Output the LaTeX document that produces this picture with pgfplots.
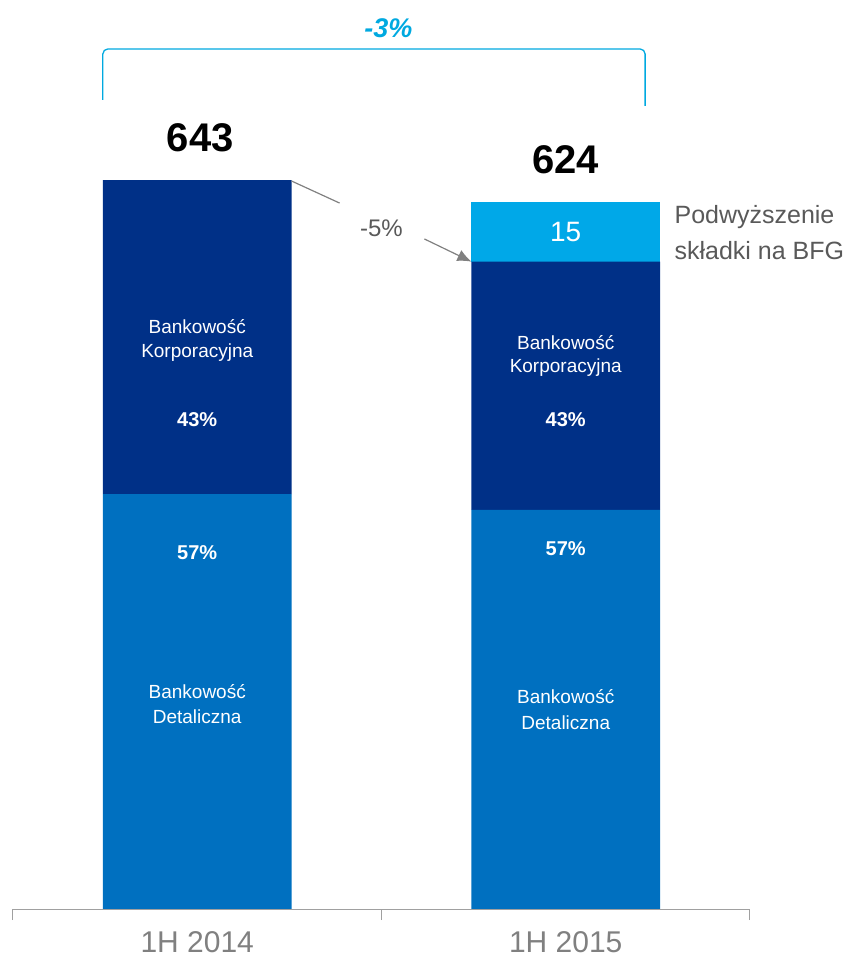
\documentclass[border=0pt]{standalone}
\usepackage{pgfplots}
\pgfplotsset{compat=1.18}
\usetikzlibrary{arrows.meta}
\usepackage{fontspec}
\setmainfont{Liberation Sans}
\definecolor{detal}{RGB}{0,112,192}
\definecolor{korp}{RGB}{0,48,135}
\definecolor{bfg}{RGB}{0,168,232}
\definecolor{brace}{RGB}{0,169,224}
\definecolor{txtgray}{RGB}{89,89,89}
\definecolor{axgray}{RGB}{160,160,160}
\newcommand{\fs}[1]{\fontsize{#1bp}{1.2\dimexpr#1bp\relax}\selectfont}
\begin{document}
\begin{tikzpicture}
\begin{axis}[
  name=ax,
  scale only axis,
  width=737bp, height=909bp,
  xmin=-0.5, xmax=1.5, ymin=0, ymax=801.8,
  ybar stacked, bar width=0.512,
  hide y axis,
  axis x line*=bottom,
  x axis line style={axgray, line width=1pt},
  xtick={0,1}, xticklabels={1H 2014,1H 2015},
  major tick length=0pt,
  minor xtick={-0.5,0.5,1.5},
  minor tick length=11bp,
  tick align=outside,
  every minor tick/.style={axgray, line width=1pt},
  xticklabel style={font=\fs{30}, text=gray, yshift=-19bp},
  clip=false,
]
\addplot[draw=none, fill=detal] coordinates {(0,366) (1,352)};
\addplot[draw=none, fill=korp] coordinates {(0,277) (1,219)};
\addplot[draw=none, fill=bfg] coordinates {(0,0) (1,53)};
\end{axis}
\begin{scope}[shift={(ax.south west)}, xshift=184.25bp, x=368.5bp, y=1.1337bp]
% bounding box
\pgfresetboundingbox
\path[use as bounding box] (-0.5352,-45.87) rectangle (1.7764,801.8);
% totals
\node[font=\bfseries\fs{40}] at (0.0081,680.1) {643};
\node[font=\bfseries\fs{40}] at (1,660.7) {624};
% brace
\draw[brace, line width=1.3pt, rounded corners=5bp] (-0.2561,713.6) -- (-0.2561,758.6) -- (1.2154,758.6) -- (1.2154,708.3);
\node[font=\bfseries\itshape\fs{27}, text=brace] at (0.519,777.1) {-3\%};
% -5% arrow
\node[font=\fs{24}, text=txtgray] at (0.5,600.7) {-5\%};
\draw[gray, line width=1.2pt] (0.2561,642.1) -- (0.3862,622.7);
\draw[gray, line width=1.2pt, -{Latex[length=14bp,width=12bp]}] (0.6165,591.0) -- (0.744,571);
% BFG label
\node[font=\fs{25}, text=txtgray, anchor=west] at (1.2859,610.4) {Podwyższenie};
\node[font=\fs{25}, text=txtgray, anchor=west] at (1.2859,580.4) {składki na BFG};
\node[font=\fs{28}, text=white] at (1,597.2) {15};
% bar 1 inner labels
\node[font=\fs{19}, text=white] at (0,513.4) {Bankowość};
\node[font=\fs{19}, text=white] at (0,490.4) {Korporacyjna};
\node[font=\bfseries\fs{20}, text=white] at (0,431.3) {43\%};
\node[font=\bfseries\fs{20}, text=white] at (0,314.0) {57\%};
\node[font=\fs{19}, text=white] at (0,191.4) {Bankowość};
\node[font=\fs{19}, text=white] at (0,169.4) {Detaliczna};
% bar 2 inner labels
\node[font=\fs{19}, text=white] at (1,499.3) {Bankowość};
\node[font=\fs{19}, text=white] at (1,477.2) {Korporacyjna};
\node[font=\bfseries\fs{20}, text=white] at (1,431.3) {43\%};
\node[font=\bfseries\fs{20}, text=white] at (1,317.5) {57\%};
\node[font=\fs{19}, text=white] at (1,187.0) {Bankowość};
\node[font=\fs{19}, text=white] at (1,164.1) {Detaliczna};
\end{scope}
\end{tikzpicture}
\end{document}
